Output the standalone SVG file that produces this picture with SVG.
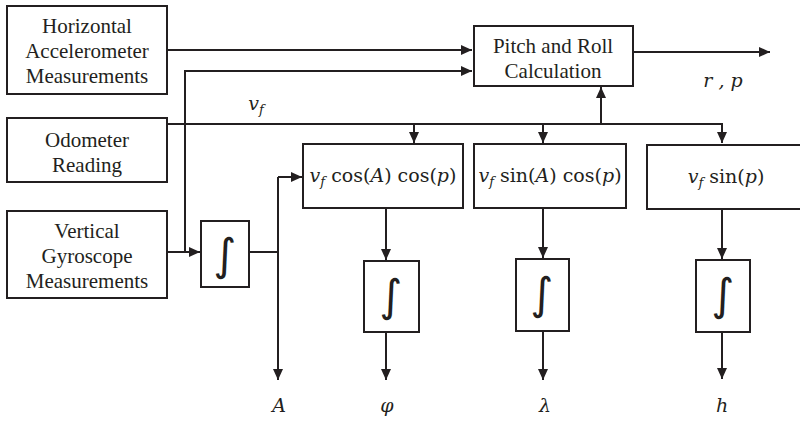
<svg xmlns="http://www.w3.org/2000/svg" width="800" height="422" viewBox="0 0 800 422">
  <defs>
    <marker id="arrow" markerUnits="userSpaceOnUse" markerWidth="12" markerHeight="12" viewBox="0 0 12 12" refX="11" refY="6" orient="auto">
      <path d="M0,1 L11,6 L0,11 Z" fill="#231f20"/>
    </marker>
  </defs>
  <style>
    .box { fill: #fff; stroke: #231f20; stroke-width: 2; }
    .wire { fill: none; stroke: #231f20; stroke-width: 2; }
    .lbl { font-family: "Liberation Serif", "Times New Roman", serif; font-size: 21px; fill: #231f20; text-anchor: middle; }
    .math { font-family: "DejaVu Serif", "Liberation Serif", serif; font-size: 19px; fill: #231f20; text-anchor: middle; }
    .it { font-style: italic; }
    .sub { font-size: 13px; font-style: italic; }
    .integ { font-family: "DejaVu Sans", sans-serif; font-size: 44px; fill: #231f20; text-anchor: middle; }
  </style>

  <!-- signal lines -->
  <g id="connectors">
    <path class="wire" d="M167,50 H472" marker-end="url(#arrow)"/>
    <path class="wire" d="M185,252 V71 H472" marker-end="url(#arrow)"/>
    <path class="wire" d="M167,252 H200" marker-end="url(#arrow)"/>
    <path class="wire" d="M167,124 H722 V143" marker-end="url(#arrow)"/>
    <path class="wire" d="M414,124 V143" marker-end="url(#arrow)"/>
    <path class="wire" d="M543,124 V143" marker-end="url(#arrow)"/>
    <path class="wire" d="M601,124 V87" marker-end="url(#arrow)"/>
    <path class="wire" d="M633,52 H770" marker-end="url(#arrow)"/>
    <path class="wire" d="M249,252 H278"/>
    <path class="wire" d="M278,177 V380" marker-end="url(#arrow)"/>
    <path class="wire" d="M278,177 H302" marker-end="url(#arrow)"/>
    <path class="wire" d="M386,208 V260" marker-end="url(#arrow)"/>
    <path class="wire" d="M386,332 V380" marker-end="url(#arrow)"/>
    <path class="wire" d="M543,208 V258" marker-end="url(#arrow)"/>
    <path class="wire" d="M543,331 V380" marker-end="url(#arrow)"/>
    <path class="wire" d="M722,209 V259" marker-end="url(#arrow)"/>
    <path class="wire" d="M722,332 V379" marker-end="url(#arrow)"/>
  </g>

  <g id="horizontal-accel">
    <rect class="box" x="7" y="6" width="160" height="88"/>
    <text class="lbl" x="87" y="33">Horizontal</text>
    <text class="lbl" x="87" y="58">Accelerometer</text>
    <text class="lbl" x="87" y="83">Measurements</text>
  </g>

  <g id="odometer">
    <rect class="box" x="7" y="118" width="160" height="64"/>
    <text class="lbl" x="87" y="147">Odometer</text>
    <text class="lbl" x="87" y="172">Reading</text>
  </g>

  <g id="vertical-gyro">
    <rect class="box" x="7" y="211" width="160" height="87"/>
    <text class="lbl" x="87" y="238">Vertical</text>
    <text class="lbl" x="87" y="263">Gyroscope</text>
    <text class="lbl" x="87" y="288">Measurements</text>
  </g>

  <g id="pitch-roll">
    <rect class="box" x="474" y="26" width="159" height="60"/>
    <text class="lbl" x="553" y="53">Pitch and Roll</text>
    <text class="lbl" x="553" y="78">Calculation</text>
  </g>

  <g id="heading-integrator">
    <rect class="box" x="201" y="221" width="48" height="66"/>
    <text class="integ" x="225" y="270">∫</text>
  </g>

  <g id="north-velocity">
    <rect class="box" x="303" y="144" width="160" height="64"/>
    <text class="math" x="383" y="182"><tspan class="it">v</tspan><tspan class="sub" dy="4">f</tspan><tspan dy="-4"> cos(</tspan><tspan class="it">A</tspan>) cos(<tspan class="it">p</tspan>)</text>
  </g>

  <g id="east-velocity">
    <rect class="box" x="474" y="144" width="152" height="64"/>
    <text class="math" x="550" y="182"><tspan class="it">v</tspan><tspan class="sub" dy="4">f</tspan><tspan dy="-4"> sin(</tspan><tspan class="it">A</tspan>) cos(<tspan class="it">p</tspan>)</text>
  </g>

  <g id="up-velocity">
    <rect class="box" x="647" y="145" width="160" height="64"/>
    <text class="math" x="726" y="183"><tspan class="it">v</tspan><tspan class="sub" dy="4">f</tspan><tspan dy="-4"> sin(</tspan><tspan class="it">p</tspan>)</text>
  </g>

  <g id="lat-integrator">
    <rect class="box" x="364" y="261" width="55" height="71"/>
    <text class="integ" x="391" y="311">∫</text>
  </g>

  <g id="lon-integrator">
    <rect class="box" x="516" y="259" width="53" height="72"/>
    <text class="integ" x="542" y="309">∫</text>
  </g>

  <g id="height-integrator">
    <rect class="box" x="696" y="260" width="54" height="72"/>
    <text class="integ" x="723" y="310">∫</text>
  </g>

  <!-- signal labels -->
  <g id="labels">
    <text class="math" x="256" y="110"><tspan class="it">v</tspan><tspan class="sub" dy="4">f</tspan></text>
    <text class="math it" x="723" y="87">r , p</text>
    <text class="math it" x="279" y="412">A</text>
    <text class="math it" x="387" y="412">φ</text>
    <text class="math it" x="545" y="412">λ</text>
    <text class="math it" x="722" y="412">h</text>
  </g>
</svg>
